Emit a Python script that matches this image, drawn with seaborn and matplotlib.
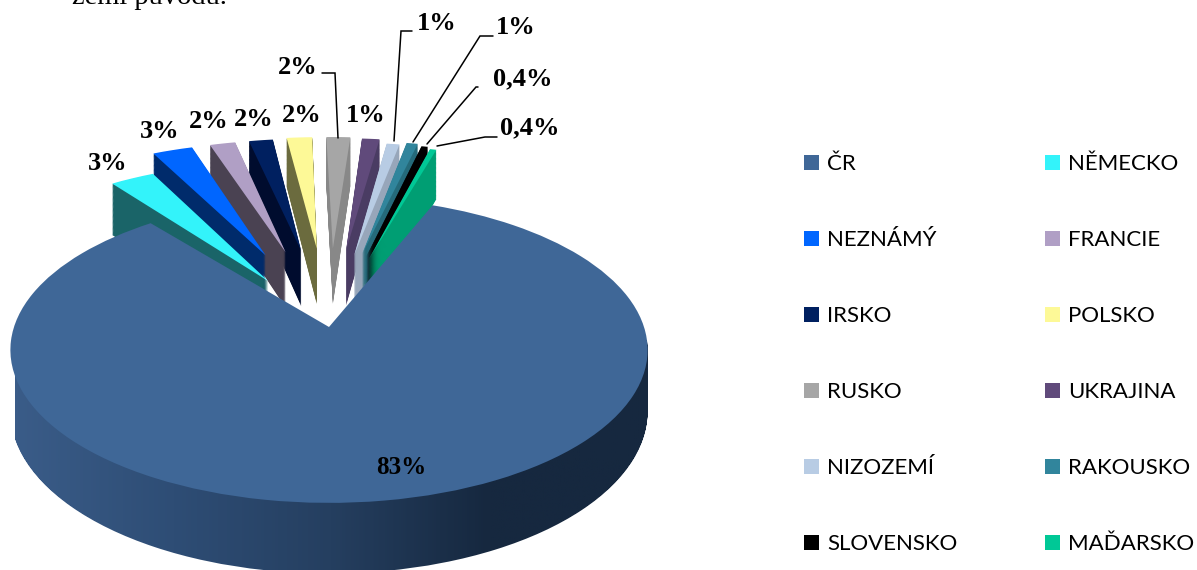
import numpy as np
import matplotlib
matplotlib.use("Agg")
import matplotlib.pyplot as plt
import seaborn as sns
from matplotlib.patches import PathPatch
from matplotlib.path import Path
from matplotlib.colors import LinearSegmentedColormap

countries = ["ČR", "NĚMECKO", "NEZNÁMÝ", "FRANCIE", "IRSKO", "POLSKO",
             "RUSKO", "UKRAJINA", "NIZOZEMÍ", "RAKOUSKO", "SLOVENSKO", "MAĎARSKO"]
shares = [83, 2.7, 2.5, 1.6, 1.5, 1.6, 1.5, 1.1, 0.8, 0.7, 0.4, 0.4]
share_labels = ["83%", "3%", "3%", "2%", "2%", "2%", "2%", "1%", "1%", "1%", "0,4%", "0,4%"]
explode = [0, 0.38, 0.56, 0.56, 0.56, 0.57, 0.57, 0.56, 0.52, 0.54, 0.52, 0.5]
top_colors = ["#3F6797", "#33F3FA", "#0066FF", "#B09FC5", "#002060", "#FDF997",
              "#A6A6A6", "#604A7B", "#B8CCE4", "#31859C", "#000000", "#00C896"]
wall_colors = ["#16283F", "#1A6468", "#002B6B", "#4A4252", "#000C2E", "#6B6B3E",
               "#888888", "#4A3C63", "#97A6BA", "#256A7A", "#000000", "#009E73"]
label_pos = [(401, 467), (108, 163), (160, 132), (209, 122), (254, 120), (302, 115),
             (298, 68), (366, 115), (437, 24), (516, 27), (523, 79), (530, 128)]
leaders = {6: [(322, 73), (335, 73), (338, 138)],
           8: [(412, 31), (401, 31), (394, 141)],
           9: [(493, 36), (480, 36), (413, 142)],
           10: [(478, 87), (476, 87), (427, 144)],
           11: [(497, 137), (485, 137), (437, 146)]}

# perspective of the disc (pixels)
CX, CY, A, B, K, DEPTH = 329, 327, 149.5, 315, 0.15, 60

sns.set_theme(style="white")
fig = plt.figure(figsize=(11.97, 5.70), dpi=100)
ax = fig.add_axes([0, 0, 1, 1])

fractions = np.array(shares) / 100
main, _ = ax.pie(fractions[:1], explode=explode[:1], startangle=68, counterclock=False,
                 normalize=False, colors=sns.color_palette(top_colors[:1]),
                 wedgeprops=dict(linewidth=0))
others, _ = ax.pie(fractions[1:], explode=explode[1:], startangle=127, counterclock=False,
                   normalize=False, colors=sns.color_palette(top_colors[1:]),
                   wedgeprops=dict(linewidth=0))
wedges = list(main) + list(others)


def project(uv, z=0.0):
    den = 1 + K * uv[:, 1]
    return np.column_stack([CX + B * uv[:, 0] / den,
                            CY - A * uv[:, 1] / den + DEPTH * z / den])


disc_paths = []
mids = []
for w in wedges:
    p = w.get_path()
    disc_paths.append((w.get_patch_transform().transform(p.vertices), p.codes))
    mids.append(abs(np.cos(np.radians((w.theta1 + w.theta2) / 2))))
    w.remove()

order = [i for i in np.argsort(mids) if i != 0] + [0]
levels = np.linspace(1, 0, 61)[:-1]
handles = [None] * len(wedges)
z = 2
for i in order:
    uv, codes = disc_paths[i]
    if i == 0:
        compound = Path.make_compound_path(*[Path(project(uv, l), codes) for l in levels])
        cmap = LinearSegmentedColormap.from_list(
            "side", ["#3A5C88", "#2E4D75", "#253F60", "#16283F", "#16283F"])
        im = ax.imshow(np.linspace(15, 648, 300)[None, :], cmap=cmap,
                       extent=(15, 648, 580, 340), aspect="auto", zorder=z)
        im.set_clip_path(compound, ax.transData)
        z += 1
    else:
        for l in levels:
            ax.add_patch(PathPatch(Path(project(uv, l), codes), fc=wall_colors[i],
                                   ec="none", lw=0, zorder=z))
            z += 1
    handles[i] = ax.add_patch(PathPatch(Path(project(uv, 0), codes), fc=top_colors[i],
                                        ec="none", lw=0, zorder=z))
    z += 1

ax.set_aspect("auto")
ax.set_xlim(0, 1197)
ax.set_ylim(570, 0)
ax.axis("off")

for k, pts in leaders.items():
    xs, ys = zip(*pts)
    ax.plot(xs, ys, color="black", lw=1.1, zorder=z, solid_joinstyle="miter")
for (x, y), s in zip(label_pos, share_labels):
    ax.text(x, y, s, family="Liberation Serif", weight="bold", color="black",
            fontsize=18 if s == "83%" else 19, ha="center", va="center", zorder=z + 1)

ax.text(72, 4, "zemí původu.", family="Liberation Serif", fontsize=20.5,
        color="black", ha="left", va="baseline")

# legend reads row by row, matplotlib fills column by column
leg_order = list(range(0, 12, 2)) + list(range(1, 12, 2))
ax.legend([handles[i] for i in leg_order], [countries[i] for i in leg_order],
          ncol=2, frameon=False, loc="upper left",
          bbox_to_anchor=(804 / 1197, 1 - 154 / 570), borderaxespad=0, borderpad=0,
          prop={"family": "Lato", "size": 16}, handlelength=0.68, handleheight=0.68,
          handletextpad=0.36, labelspacing=2.52, columnspacing=3.95, labelcolor="black")

fig.savefig("out.png", dpi=100)
